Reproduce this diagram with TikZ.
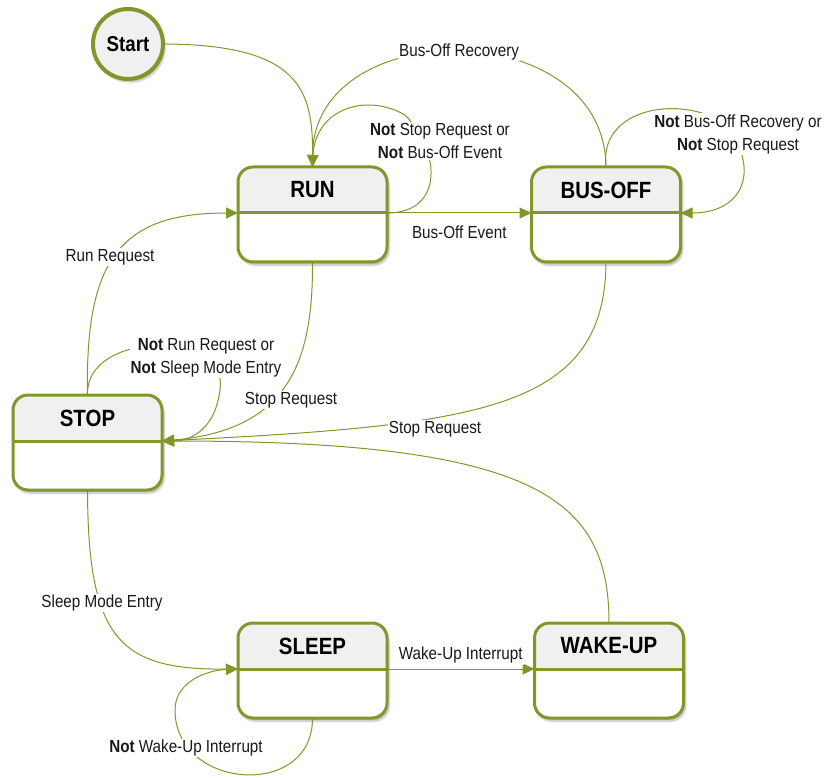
\documentclass[tikz,border=0pt]{standalone}
\usepackage{fontspec}
\setmainfont{Liberation Sans}[FakeStretch=0.87]
\usetikzlibrary{arrows.meta,shadows.blur}

\definecolor{smgreen}{RGB}{128,152,42}
\definecolor{titlegray}{RGB}{240,240,240}
\definecolor{labelink}{RGB}{25,25,25}

\tikzset{
  boxbase/.style={rectangle, minimum width=149pt, minimum height=95pt,
    inner sep=0pt, outer sep=0pt, fill=white, rounded corners=15pt,
    blur shadow={shadow xshift=2pt, shadow yshift=-3pt, shadow blur steps=6, shadow opacity=30}},
  boxline/.style={draw=smgreen, line width=3pt},
  titletext/.style={font=\fontsize{23.5}{26}\selectfont\bfseries, text=black},
  startnode/.style={circle, minimum size=70pt, inner sep=0pt, draw=smgreen,
    line width=4pt, fill=titlegray, font=\fontsize{21.5}{24}\selectfont\bfseries,
    blur shadow={shadow xshift=2pt, shadow yshift=-3pt, shadow blur steps=6, shadow opacity=30}},
  trans/.style={draw=smgreen, line width=1pt, -{Triangle[length=12pt,width=11pt]}},
  translabel/.style={fill=white, inner sep=1pt, align=center, text=labelink,
    font=\fontsize{17.5}{23}\selectfont},
}

% a state: rounded box with grey title band above a divider line
\newcommand\smstate[4]{%
  \node[boxbase] (#1) at (#2,#3) {};
  \begin{scope}
    \clip ([yshift=2pt,xshift=-2pt]#1.north west) rectangle ([yshift=-46pt,xshift=2pt]#1.north east);
    \fill[titlegray, rounded corners=15pt] (#1.north west) rectangle (#1.south east);
  \end{scope}
  \draw[boxline, rounded corners=15pt] (#1.north west) rectangle (#1.south east);
  \coordinate (#1-dl) at ([yshift=-46pt]#1.north west);
  \coordinate (#1-dr) at ([yshift=-46pt]#1.north east);
  \draw[boxline] (#1-dl) -- (#1-dr);
  \node[titletext] at ([yshift=-23pt]#1.north) {#4};
}

\begin{document}
\begin{tikzpicture}[x=1pt, y=-1pt]
\useasboundingbox (0,0) rectangle (825,778);

% states
\node[startnode] (start) at (128,44) {Start};
\smstate{run}{312.5}{214.5}{RUN}
\smstate{busoff}{606}{214.5}{BUS-OFF}
\smstate{stop}{87.5}{442.5}{STOP}
\smstate{sleep}{312.5}{670.5}{SLEEP}
\smstate{wakeup}{609}{670.5}{WAKE-UP}

% transitions
\draw[trans] (start.east) .. controls (300,45) and (313,90) .. (run.north);
\draw[trans] (busoff.north) .. controls (605,14) and (313,14) .. (run.north)
  node[translabel, pos=0.5] {Bus-Off Recovery};
\draw[trans] (run-dr) .. controls (445,213) and (440,150) .. (405,115)
  .. controls (365,92) and (315,110) .. (run.north);
\node[translabel] at (440,141) {\textbf{Not} Stop Request or\\\textbf{Not} Bus-Off Event};

\draw[trans] (run-dr) -- (busoff-dl) node[pos=0.5, below=11pt, translabel] {Bus-Off Event};

\draw[trans] (busoff.north) .. controls (598,100) and (700,95) .. (730,130)
  .. controls (760,175) and (740,213) .. (busoff-dr);
\node[translabel] at (738,134) {\textbf{Not} Bus-Off Recovery or\\\textbf{Not} Stop Request};

\draw[trans] (run.south) .. controls (313,360) and (290,430) .. (stop-dr);
\node[translabel] at (291,400) {Stop Request};

\draw[trans] (busoff.south) .. controls (605,410) and (480,425) .. (stop-dr);
\node[translabel] at (435,429) {Stop Request};

\draw[trans] (wakeup.north) .. controls (609,500) and (540,441) .. (stop-dr);

\draw[trans] (stop.north) .. controls (85,260) and (120,213) .. (run-dl);
\node[translabel] at (110,257) {Run Request};

\draw[trans] (stop.north) .. controls (85,330) and (230,330) .. (220,390)
  .. controls (215,430) and (190,441) .. (stop-dr);
\node[translabel] at (206,358) {\textbf{Not} Run Request or\\\textbf{Not} Sleep Mode Entry};

\draw[trans] (stop.south) .. controls (88,640) and (120,670) .. (sleep-dl);
\node[translabel] at (102,603) {Sleep Mode Entry};

\draw[trans] (sleep-dr) -- (wakeup-dl) node[pos=0.5, above=4pt, translabel] {Wake-Up Interrupt};

\draw[trans] (sleep.south) .. controls (313,800) and (175,790) .. (175,710)
  .. controls (175,680) and (210,670) .. (sleep-dl);
\node[translabel] at (186,748) {\textbf{Not} Wake-Up Interrupt};
\end{tikzpicture}
\end{document}
